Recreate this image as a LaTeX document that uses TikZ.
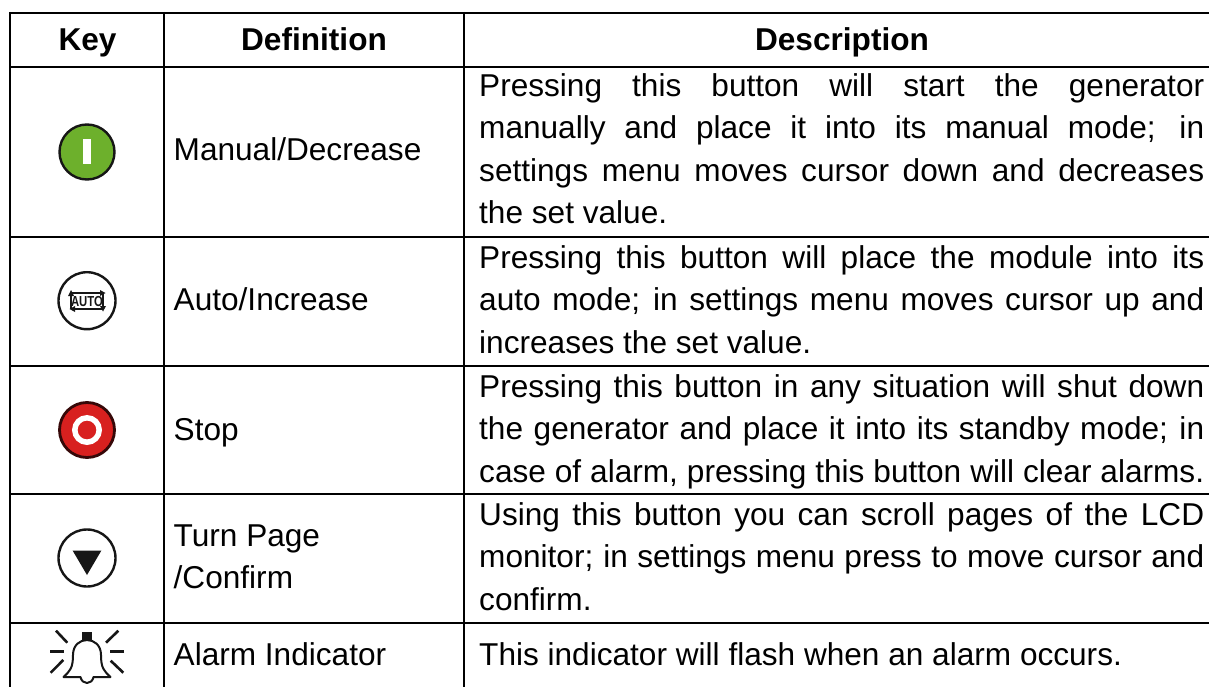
\documentclass[tikz,border=0pt]{standalone}
\usepackage{fontspec}
\setmainfont{Liberation Sans}
\definecolor{ink}{HTML}{161616}
\definecolor{grn}{HTML}{6DB02C}
\definecolor{rd}{HTML}{D8201F}
\tikzset{
  px/.style={x=1pt,y=-1pt},
  grid/.style={line width=2pt,draw=black},
  head/.style={font=\fontsize{31.6}{36}\selectfont\bfseries,text=black,anchor=base,inner sep=0pt},
  defn/.style={font=\fontsize{31.6}{36}\selectfont,text=black,anchor=base west,inner sep=0pt},
  jline/.style={font=\fontsize{31.6}{36}\selectfont,text=black,anchor=base west,inner sep=0pt},
  ring/.style={line width=2.4pt,draw=ink},
  bellray/.style={line width=2.6pt,draw=ink}
}
\newcommand{\jl}[3]{\node[jline] (#1) at (479,#2) {\hbox to 725pt{\spaceskip=0.278em plus 1fil minus 0.1em\relax #3}};}
\begin{document}
\begin{tikzpicture}[px]
\useasboundingbox (0,0) rectangle (1209,687);
\fill[white] (0,0) rectangle (1209,687);
\draw[grid] (10,13) -- (1209,13);
\foreach \y in {66.7,236.7,365.7,494,622.7} \draw[grid] (10,\y) -- (1209,\y);
\foreach \x in {10,164,464} \draw[grid] (\x,12) -- (\x,687);
\node[head] (hk) at (87.5,50.7) {Key};
\node[head] (hd) at (314,50.7) {Definition};
\node[head] (hs) at (842,50.7) {Description};
\node[defn] (d1) at (173.5,160.7) {Manual/Decrease};
\node[defn] (d2) at (173.5,310) {Auto/Increase};
\node[defn] (d3) at (173.5,440) {Stop};
\node[defn] (d4a) at (173.5,546) {Turn Page};
\node[defn] (d4b) at (173.5,588) {/Confirm};
\node[defn] (d5) at (173.5,665.5) {Alarm Indicator};
\jl{a1}{96.5}{Pressing this button will start the generator}
\jl{a2}{139}{manually and place it into its manual mode; in}
\jl{a3}{181.5}{settings menu moves cursor down and decreases}
\node[jline] (a4) at (479,223.5) {the set value.};
\jl{b1}{268}{Pressing this button will place the module into its}
\jl{b2}{310.5}{auto mode; in settings menu moves cursor up and}
\node[jline] (b3) at (479,353) {increases the set value.};
\jl{c1}{397}{Pressing this button in any situation will shut down}
\jl{c2}{439.5}{the generator and place it into its standby mode; in}
\jl{c3}{482}{case of alarm, pressing this button will clear alarms.}
\jl{e1}{525}{Using this button you can scroll pages of the LCD}
\jl{e2}{567}{monitor; in settings menu press to move cursor and}
\node[jline] (e3) at (479,610) {confirm.};
\node[jline] (f1) at (479,665.5) {This indicator will flash when an alarm occurs.};
% green manual key
\fill[grn] (87,152) circle (27.5);
\draw[ring] (87,152) circle (27.5);
\fill[white] (83,139) rectangle (91,164);
% auto key
\draw[ring] (87,300.7) circle (28.5);
\draw[line width=1.8pt,ink] (71,293) -- (101,293);
\fill[ink] (100,290) -- (105.5,293) -- (100,296) -- cycle;
\draw[line width=1.8pt,ink] (103,293) -- (103,308);
\fill[ink] (100,306) -- (106,306) -- (103,311.5) -- cycle;
\draw[line width=1.8pt,ink] (103,309) -- (73,309);
\fill[ink] (75,306) -- (69.5,309) -- (75,312) -- cycle;
\draw[line width=1.8pt,ink] (71,309) -- (71,294);
\fill[ink] (68,296) -- (74,296) -- (71,290) -- cycle;
\node[font=\fontsize{14.5}{15}\selectfont\bfseries,inner sep=0pt,text=ink,xscale=0.78] (autot) at (87,301.5) {AUTO};
% stop key
\fill[rd] (87,430) circle (27.5);
\draw[ring,line width=2.8pt,draw=black!75!rd] (87,430) circle (27.5);
\draw[white,line width=5.5pt] (87,430) circle (12.2);
% turn key
\draw[ring] (87,558) circle (28.5);
\fill[ink] (72.7,550.7) -- (101.3,550.7) -- (87,575) -- cycle;
% bell
\fill[ink] (81.7,631.7) rectangle (91.7,640);
\draw[line width=2pt,ink,line join=round] (63.5,677) .. controls (70,671) and (73,668) .. (73,655) .. controls (73,645) and (80,640) .. (87,640) .. controls (94,640) and (101,645) .. (101,655) .. controls (101,668) and (104,671) .. (110.5,677) -- (93.5,677) .. controls (92,685) and (82,685) .. (80.5,677) -- cycle;
\draw[bellray] (56,630.7) -- (67.3,642.7);
\draw[bellray] (118.3,630.7) -- (106,642.7);
\draw[bellray] (50,651.7) -- (64,651.7);
\draw[bellray] (124,651.7) -- (110,651.7);
\draw[bellray] (50.7,672.7) -- (63.3,660);
\draw[bellray] (123.3,672.7) -- (110.7,660.7);
\end{tikzpicture}
\end{document}
